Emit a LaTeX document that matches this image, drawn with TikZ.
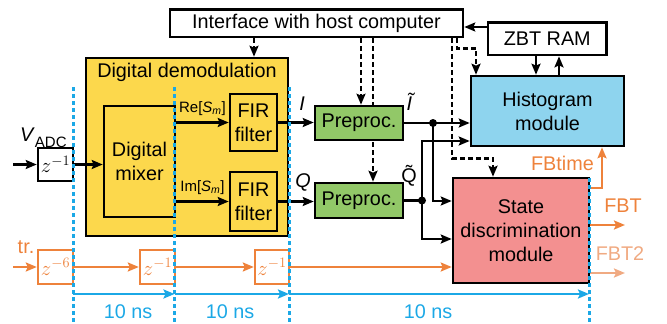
\documentclass[tikz,border=0pt]{standalone}
\usepackage{fontspec}
\setmainfont{Liberation Sans}
\usetikzlibrary{arrows.meta}

\definecolor{demodyellow}{HTML}{FCD84C}
\definecolor{prepgreen}{HTML}{92C868}
\definecolor{histblue}{HTML}{8ED4EE}
\definecolor{statepink}{HTML}{F39090}
\definecolor{trigorange}{HTML}{EE823B}
\definecolor{lightorange}{HTML}{F0AA82}
\definecolor{clockblue}{HTML}{1BA8E6}

\pgfdeclarelayer{bg}
\pgfsetlayers{bg,main}

\begin{document}
\begin{tikzpicture}[x=1pt,y=-1pt,
  mainfont/.style={font=\fontsize{19.8}{24}\selectfont},
  zfont/.style={font=\fontsize{22}{24}\selectfont},
  blk/.style={draw=black, line width=2.6pt, inner sep=0pt, align=center, mainfont},
  zblk/.style={draw=trigorange, fill=white, line width=2.4pt, inner sep=0pt,
               text=trigorange, minimum height=34pt, zfont},
  tip/.style={-{Stealth[length=11pt,width=9pt,inset=2pt]}},
  sig/.style={tip, line width=2.4pt},
  ctl/.style={tip, line width=2.4pt, dash pattern=on 5pt off 3pt},
  trig/.style={tip, line width=2.4pt, draw=trigorange, color=trigorange},
  clk/.style={tip, line width=2.4pt, draw=clockblue, color=clockblue},
  tick/.style={draw=clockblue, line width=3pt, dash pattern=on 4pt off 3pt},
  lbl/.style={inner sep=0pt, mainfont},
  smalllbl/.style={inner sep=0pt, font=\fontsize{15}{17}\selectfont},
  joint/.style={circle, fill=black, inner sep=0pt, minimum size=8pt}]

\useasboundingbox (0,0) rectangle (667,324);

% ---- blocks ----
\node[blk, fill=white, minimum width=293pt, minimum height=27.5pt] (iface) at (316.5,23.25) {Interface with host computer};
\node[blk, fill=white, minimum width=118.7pt, minimum height=32.3pt] (zbt) at (547.3,38.9) {ZBT RAM};

\node[blk, fill=demodyellow, minimum width=202pt, minimum height=178pt] (demod) at (187,147) {};
\node[lbl] (demodtitle) at (187,72) {Digital demodulation};
\node[blk, fill=demodyellow, minimum width=71pt, minimum height=111pt] (mixer) at (139.5,161.5) {Digital\\mixer};
\node[blk, fill=demodyellow, minimum width=47pt, minimum height=57pt] (fir1) at (253.5,122.5) {FIR\\filter};
\node[blk, fill=demodyellow, minimum width=47pt, minimum height=59pt] (fir2) at (253.5,201.5) {FIR\\filter};

\node[blk, fill=white, minimum width=35pt, minimum height=33pt, zfont] (zadc) at (55.5,164.5) {$z^{-1}$};

\node[blk, fill=prepgreen, minimum width=88pt, minimum height=34pt] (pre1) at (359,123) {Preproc.};
\node[blk, fill=prepgreen, minimum width=88pt, minimum height=35pt] (pre2) at (359,200.5) {Preproc.};

\node[blk, fill=histblue, minimum width=153pt, minimum height=70pt] (hist) at (547.5,111) {Histogram\\module};
\node[blk, fill=statepink, minimum width=136pt, minimum height=105pt] (state) at (521,230.5) {State\\discrimination\\module};

\node[zblk, minimum width=35pt] (z6) at (55.5,267) {$z^{-6}$};
\node[zblk, minimum width=35pt] (zd1) at (157.5,267) {$z^{-1}$};
\node[zblk, minimum width=34pt] (zd2) at (272,267) {$z^{-1}$};

% ---- free ends and branch points ----
\coordinate (adcin) at (13,164.5);
\coordinate (trin) at (13,267);
\coordinate (dI) at (433,123);
\coordinate (dQ) at (422,200.5);
\coordinate (fbcorner) at (602,188);
\coordinate (fbtend) at (625,225);
\coordinate (fbttwoend) at (625,273);

% ---- host control lines (behind the blocks) ----
\begin{pgfonlayer}{bg}
  \draw[ctl] (iface.south -| demod.north) ++(67,0) coordinate (c1) -- (c1 |- demod.north);
  \draw[ctl] (iface.south) ++(44.5,0) coordinate (c2) -- (c2 |- pre1.north);
  \draw[ctl] (iface.south) ++(56.5,0) coordinate (c3) -- (c3 |- pre2.north);
  \draw[ctl] (iface.south) ++(135.5,0) coordinate (c4) -- ++(0,120) -| (state.north -| 493,0);
  \draw[ctl] (iface.south) ++(140.5,0) coordinate (c5) -- ++(0,10) -| (hist.north -| 476,0);
\end{pgfonlayer}

% ---- data path ----
\draw[sig] (adcin) -- (zadc.west);
\draw[sig] (zadc.east) -- (zadc.east -| mixer.west);
\draw[sig] (mixer.east |- fir1.west) -- (fir1.west)
  node[smalllbl, midway, above=6pt] (relbl) {Re[\textit{S}\textsubscript{\textit{m}}]};
\draw[sig] (mixer.east |- fir2.west) -- (fir2.west)
  node[smalllbl, midway, above=6pt] (imlbl) {Im[\textit{S}\textsubscript{\textit{m}}]};
\draw[sig] (fir1.east) -- (fir1.east -| pre1.west);
\draw[sig] (fir2.east) -- (fir2.east -| pre2.west);
\node[lbl] (ilbl) at (302,104) {\textit{I}};
\node[lbl] (qlbl) at (303,182) {\textit{Q}};

\draw[sig] (pre1.east |- dI) -- (dI -| hist.west);
\draw[line width=2.4pt] (pre2.east |- dQ) -- (dQ);
\node[joint] (jI) at (dI) {};
\node[joint] (jQ) at (dQ) {};
\node[lbl] (itlbl) at (411,102) {\textit{\~{I}}};
\node[lbl] (qtlbl) at (409,176) {\~{Q}};

\draw[sig] (dI) |- (state.west |- 0,201);
\draw[sig] (dQ) |- (hist.west |- 0,141);
\draw[sig] (dQ) |- (state.west |- 0,239);

% ---- memory ----
\draw[sig] (zbt.west |- 0,27) -- (iface.east |- 0,27);
\draw[sig] (zbt.south -| 536,0) -- (hist.north -| 536,0);
\draw[sig] (hist.north -| 559,0) -- (zbt.south -| 559,0);

% ---- trigger chain ----
\node[lbl, text=trigorange] (trlbl) at (26,247) {tr.};
\draw[trig] (trin) -- (z6.west);
\draw[trig] (z6.east) -- (zd1.west);
\draw[trig] (zd1.east) -- (zd2.west);
\draw[trig] (zd2.east) -- (zd2.east -| state.west);

% ---- feedback outputs ----
\draw[trig] (state.east |- fbcorner) -- (fbcorner) -- (fbcorner |- hist.south);
\node[lbl, text=trigorange, anchor=east] (fbtimelbl) at (594,163) {FBtime};
\draw[trig] (state.east |- fbtend) -- (fbtend);
\node[lbl, text=trigorange] (fbtlbl) at (623,206) {FBT};
\draw[tip, line width=2.4pt, draw=lightorange, color=lightorange] (state.east |- fbttwoend) -- (fbttwoend);
\node[lbl, text=lightorange] (fbt2lbl) at (620,254) {FBT2};

% ---- clock stage markers ----
\coordinate (t0) at (73,87);
\coordinate (t1) at (174.5,87);
\coordinate (t2) at (289,87);
\coordinate (t3) at (589,178);
\draw[tick] (t0) -- (t0 |- 0,324);
\draw[tick] (t1) -- (t1 |- 0,324);
\draw[tick] (t2) -- (t2 |- 0,324);
\draw[tick] (t3) -- (t3 |- 0,324);
\draw[clk] (t0 |- 0,294) -- (t1 |- 0,294);
\draw[clk] (t1 |- 0,294) -- (t2 |- 0,294);
\draw[clk] (t2 |- 0,294) -- (t3 |- 0,294);
\node[lbl, text=clockblue] (ns1) at (128,312) {10 ns};
\node[lbl, text=clockblue] (ns2) at (230,312) {10 ns};
\node[lbl, text=clockblue] (ns3) at (428,312) {10 ns};

% ---- ADC input label ----
\node[lbl, anchor=base west] (vadc) at (20,141) {\textit{V}\raisebox{-0.35em}{\fontsize{15}{17}\selectfont ADC}};
\end{tikzpicture}
\end{document}
